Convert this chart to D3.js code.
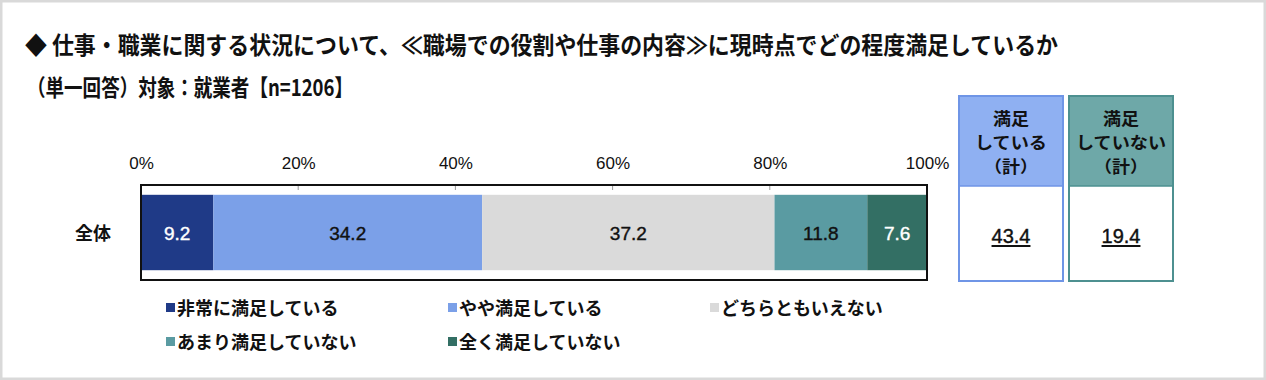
<!DOCTYPE html>
<html><head><meta charset="utf-8">
<script src="https://cdn.jsdelivr.net/npm/d3@7"></script>
<style>html,body{margin:0;padding:0;background:#fff;}svg{display:block;}</style>
</head><body>
<script>
const titleLines = ["◆ 仕事・職業に関する状況について、≪職場での役割や仕事の内容≫に現時点でどの程度満足しているか", "（単一回答）対象：就業者【n=1206】"];
const categories = ["全体"];
const seriesNames = ["非常に満足している", "やや満足している", "どちらともいえない", "あまり満足していない", "全く満足していない"];
const seriesValues = [9.2, 34.2, 37.2, 11.8, 7.6];
const seriesColors = ["#1f3a87", "#7ba0e8", "#dadada", "#5a9ba2", "#336f64"];
const labelColors = ["#ffffff", "#111111", "#111111", "#111111", "#ffffff"];
const tickValues = [0, 20, 40, 60, 80, 100];
const summaryHeaders = [["満足", "している", "（計）"], ["満足", "していない", "（計）"]];
const summaryValues = ["43.4", "19.4"];
const summaryFill = ["#8fb0f2", "#6ea8a8"];
const summaryStroke = ["#6f95e6", "#4d9090"];

const W = 1266, H = 380;
const svg = d3.select("body").append("svg").attr("width", W).attr("height", H);
const jp = "'Noto Sans CJK JP','Noto Sans',sans-serif";
const num = "'Liberation Sans',Arial,'Noto Sans CJK JP',sans-serif";

// outer frame
svg.append("rect").attr("x", 1).attr("y", 1).attr("width", W - 2).attr("height", H - 2)
  .attr("fill", "#fff").attr("stroke", "#d9d9d9").attr("stroke-width", 3);

// title
svg.append("text").attr("x", 25).attr("y", 54).attr("font-family", jp).attr("font-weight", "bold")
  .attr("font-size", 24).attr("fill", "#111").attr("textLength", 1033).attr("lengthAdjust", "spacingAndGlyphs")
  .text(titleLines[0]);
svg.append("text").attr("x", 27).attr("y", 96).attr("font-family", jp).attr("font-weight", "bold")
  .attr("font-size", 23).attr("fill", "#111").attr("textLength", 326).attr("lengthAdjust", "spacingAndGlyphs")
  .text(titleLines[1]);

const x = d3.scaleLinear().domain([0, 100]).range([141, 927]);
const y = d3.scaleBand().domain(categories).range([185, 280]).paddingInner(0).paddingOuter(0.13);

// axis tick labels
const axis = d3.axisTop(x).tickValues(tickValues).tickFormat(d => d + "%").tickSize(0).tickPadding(0);
const ag = svg.append("g").attr("transform", "translate(0,169)").call(axis);
ag.select(".domain").remove();
ag.selectAll("text").attr("font-family", num).attr("font-size", 17).attr("fill", "#111");

// stacked bars
let cum = 0;
const stacks = seriesValues.map((v, i) => { const s = {i, v, x0: cum, x1: cum + v}; cum += v; return s; });
categories.forEach(cat => {
  const g = svg.append("g");
  g.selectAll("rect").data(stacks).join("rect")
    .attr("x", d => x(d.x0)).attr("width", d => x(d.x1) - x(d.x0))
    .attr("y", y(cat)).attr("height", y.bandwidth())
    .attr("fill", d => seriesColors[d.i]);
  g.selectAll("text").data(stacks).join("text")
    .attr("x", d => (x(d.x0) + x(d.x1)) / 2).attr("y", y(cat) + y.bandwidth() / 2 + 7)
    .attr("text-anchor", "middle").attr("font-family", num).attr("font-size", 19)
    .attr("stroke", d => labelColors[d.i]).attr("stroke-width", 0.4)
    .attr("fill", d => labelColors[d.i]).text(d => d.v.toFixed(1));
  svg.append("text").attr("x", 111).attr("y", y(cat) + y.bandwidth() / 2 + 7).attr("text-anchor", "end")
    .attr("font-family", jp).attr("font-weight", "bold").attr("font-size", 18).attr("fill", "#111").text(cat);
});

// small tick marks at top of frame
svg.append("g").selectAll("line").data(tickValues.slice(1, -1)).join("line")
  .attr("x1", d => x(d)).attr("x2", d => x(d)).attr("y1", 185).attr("y2", 190)
  .attr("stroke", "#999").attr("stroke-width", 1);

// plot frame
svg.append("rect").attr("x", 141).attr("y", 185).attr("width", 786).attr("height", 95)
  .attr("fill", "none").attr("stroke", "#111").attr("stroke-width", 2);

// summary boxes
const boxX = [959, 1069], boxW = 104, boxTop = 96, headBot = 186, boxBot = 281;
summaryValues.forEach((v, i) => {
  const g = svg.append("g");
  g.append("rect").attr("x", boxX[i]).attr("y", boxTop).attr("width", boxW).attr("height", headBot - boxTop)
    .attr("fill", summaryFill[i]);
  g.append("rect").attr("x", boxX[i]).attr("y", boxTop).attr("width", boxW).attr("height", boxBot - boxTop)
    .attr("fill", "none").attr("stroke", summaryStroke[i]).attr("stroke-width", 2);
  g.append("line").attr("x1", boxX[i]).attr("x2", boxX[i] + boxW).attr("y1", headBot).attr("y2", headBot)
    .attr("stroke", summaryStroke[i]).attr("stroke-width", 1.5);
  summaryHeaders[i].forEach((t, j) => {
    g.append("text").attr("x", boxX[i] + boxW / 2).attr("y", 125 + j * 24).attr("text-anchor", "middle")
      .attr("font-family", jp).attr("font-weight", "bold").attr("font-size", 16.5)
      .attr("textLength", t.length * 18).attr("lengthAdjust", "spacingAndGlyphs")
      .attr("fill", "#111").text(t);
  });
  const tx = g.append("text").attr("x", boxX[i] + boxW / 2).attr("y", 243).attr("text-anchor", "middle")
    .attr("font-family", num).attr("font-size", 20).attr("stroke", "#111").attr("stroke-width", 0.4)
    .attr("fill", "#111").text(v);
  const bb = tx.node().getBBox();
  g.append("line").attr("x1", bb.x).attr("x2", bb.x + bb.width).attr("y1", 246).attr("y2", 246)
    .attr("stroke", "#111").attr("stroke-width", 1.8);
});

// legend
const legPos = [[166, 308], [448, 308], [710, 308], [166, 342], [448, 342]];
const lg = svg.append("g");
seriesNames.forEach((n, i) => {
  const [lx, ly] = legPos[i];
  lg.append("rect").attr("x", lx).attr("y", ly - 5).attr("width", 9).attr("height", 9).attr("fill", seriesColors[i]);
  lg.append("text").attr("x", lx + 11).attr("y", ly + 6.5).attr("font-family", jp).attr("font-weight", "bold")
    .attr("font-size", 18).attr("fill", "#111").text(n);
});
</script>
</body></html>
